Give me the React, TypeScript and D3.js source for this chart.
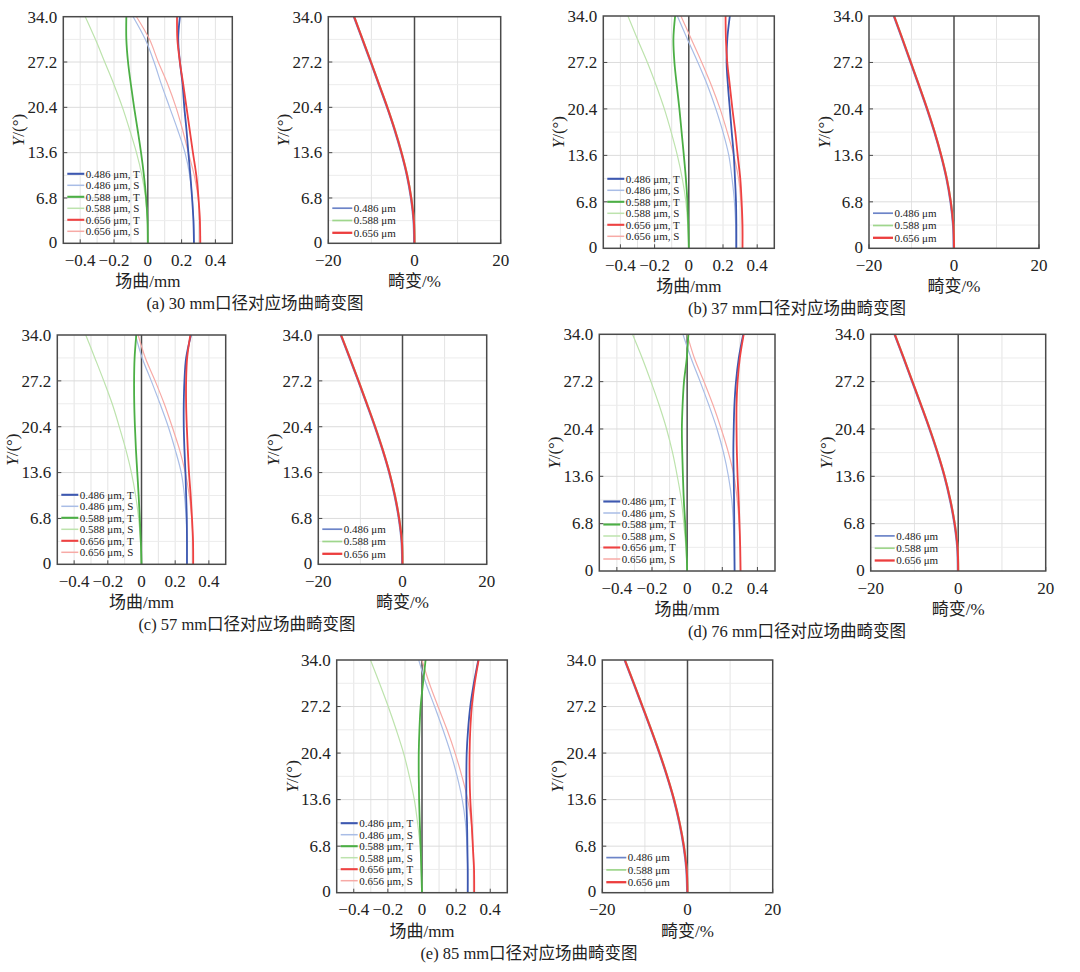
import React from "react";
import * as d3 from "d3";

// ---------- data ----------
const Y_SAMPLES = [0, 3.4, 6.8, 10.2, 13.6, 17, 20.4, 23.8, 27.2, 30.6, 34];
const Y_TICKS = [0, 6.8, 13.6, 20.4, 27.2, 34.0];
const FIELD_X_TICKS = [-0.4, -0.2, 0, 0.2, 0.4];
const DIST_X_TICKS = [-20, 0, 20];

const FIELD_NAMES = ["0.486 μm, T", "0.486 μm, S", "0.588 μm, T", "0.588 μm, S", "0.656 μm, T", "0.656 μm, S"];
const DIST_NAMES = ["0.486 μm", "0.588 μm", "0.656 μm"];

// (a) 30 mm
const A_BT = [0.273, 0.27, 0.262, 0.252, 0.24, 0.229, 0.216, 0.206, 0.19, 0.18, 0.19];
const A_BS = [0.275, 0.271, 0.263, 0.248, 0.22, 0.177, 0.129, 0.081, 0.037, -0.015, -0.087];
const A_GT = [0, -0.002, -0.01, -0.023, -0.04, -0.06, -0.081, -0.1, -0.117, -0.127, -0.127];
const A_GS = [0, -0.002, -0.013, -0.035, -0.067, -0.107, -0.15, -0.2, -0.255, -0.31, -0.37];
const A_RT = [0.31, 0.308, 0.3, 0.287, 0.267, 0.248, 0.229, 0.21, 0.19, 0.175, 0.173];
const A_RS = [0.313, 0.31, 0.298, 0.275, 0.24, 0.206, 0.167, 0.119, 0.062, 0.01, -0.067];
const A_DIST = [0, -0.15, -0.75, -1.7, -3.0, -4.55, -6.3, -8.2, -10.1, -12.05, -14.0];

// (b) 37 mm
const B_BT = [0.278, 0.278, 0.276, 0.27, 0.263, 0.251, 0.24, 0.229, 0.221, 0.225, 0.24];
const B_BS = [0.276, 0.274, 0.267, 0.253, 0.234, 0.2, 0.158, 0.11, 0.053, -0.008, -0.067];
const B_GT = [0, -0.003, -0.008, -0.017, -0.029, -0.042, -0.055, -0.07, -0.084, -0.09, -0.08];
const B_GS = [0, -0.006, -0.017, -0.038, -0.067, -0.103, -0.143, -0.19, -0.242, -0.3, -0.356];
const B_RT = [0.314, 0.314, 0.309, 0.301, 0.286, 0.272, 0.255, 0.24, 0.225, 0.217, 0.215];
const B_RS = [0.314, 0.312, 0.305, 0.291, 0.263, 0.225, 0.183, 0.133, 0.076, 0.015, -0.046];
const B_DIST = [0, -0.15, -0.75, -1.7, -3.0, -4.55, -6.3, -8.2, -10.15, -12.1, -14.1];

// (c) 57 mm
const C_BT = [0.27, 0.27, 0.269, 0.265, 0.261, 0.255, 0.251, 0.251, 0.255, 0.265, 0.294];
const C_BS = [0.27, 0.27, 0.265, 0.255, 0.236, 0.2, 0.159, 0.11, 0.058, 0.004, -0.036];
const C_GT = [0, -0.004, -0.01, -0.017, -0.025, -0.033, -0.039, -0.043, -0.044, -0.041, -0.031];
const C_GS = [0, -0.006, -0.017, -0.035, -0.06, -0.093, -0.132, -0.174, -0.224, -0.277, -0.331];
const C_RT = [0.307, 0.306, 0.3, 0.292, 0.282, 0.275, 0.269, 0.265, 0.265, 0.271, 0.29];
const C_RS = [0.307, 0.306, 0.298, 0.284, 0.26, 0.226, 0.182, 0.135, 0.081, 0.023, -0.02];
const C_DIST = [0, -0.15, -0.8, -1.8, -3.1, -4.7, -6.5, -8.45, -10.45, -12.5, -14.6];

// (d) 76 mm
const D_BT = [0.27, 0.269, 0.268, 0.267, 0.265, 0.263, 0.265, 0.269, 0.278, 0.294, 0.319];
const D_BS = [0.27, 0.268, 0.263, 0.254, 0.235, 0.207, 0.17, 0.124, 0.074, 0.022, -0.024];
const D_GT = [0, -0.004, -0.011, -0.019, -0.024, -0.028, -0.03, -0.026, -0.018, -0.002, 0.007];
const D_GS = [0, -0.007, -0.019, -0.033, -0.056, -0.083, -0.117, -0.159, -0.206, -0.256, -0.311];
const D_RT = [0.304, 0.302, 0.298, 0.293, 0.287, 0.283, 0.281, 0.281, 0.287, 0.3, 0.322];
const D_RS = [0.304, 0.302, 0.296, 0.285, 0.267, 0.235, 0.194, 0.148, 0.096, 0.041, 0.0];
const D_DIST = [0, -0.15, -0.8, -1.8, -3.1, -4.7, -6.5, -8.45, -10.45, -12.45, -14.5];

// (e) 85 mm
const E_BT = [0.268, 0.268, 0.266, 0.264, 0.26, 0.26, 0.262, 0.27, 0.283, 0.304, 0.33];
const E_BS = [0.268, 0.268, 0.264, 0.255, 0.236, 0.206, 0.168, 0.123, 0.074, 0.023, -0.019];
const E_GT = [0, -0.004, -0.008, -0.013, -0.017, -0.019, -0.019, -0.015, -0.008, 0.006, 0.021];
const E_GS = [0, -0.004, -0.011, -0.026, -0.045, -0.074, -0.108, -0.151, -0.198, -0.249, -0.302];
const E_RT = [0.306, 0.305, 0.298, 0.291, 0.283, 0.279, 0.279, 0.283, 0.292, 0.309, 0.332];
const E_RS = [0.306, 0.304, 0.298, 0.289, 0.268, 0.234, 0.194, 0.147, 0.094, 0.043, 0.0];
const E_DIST = [0, -0.2, -0.85, -1.85, -3.15, -4.75, -6.55, -8.5, -10.55, -12.6, -14.7];

const CAPTIONS = [
  "(a) 30 mm口径对应场曲畸变图",
  "(b) 37 mm口径对应场曲畸变图",
  "(c) 57 mm口径对应场曲畸变图",
  "(d) 76 mm口径对应场曲畸变图",
  "(e) 85 mm口径对应场曲畸变图",
];

// ---------- styles ----------
const FIELD_STYLE = [
  { color: "#3d58b0", width: 1.8 },
  { color: "#a9bde6", width: 1.2 },
  { color: "#4caf45", width: 1.8 },
  { color: "#bde3ad", width: 1.2 },
  { color: "#ee4242", width: 1.8 },
  { color: "#f7aaa6", width: 1.2 },
];
const DIST_STYLE = [
  { color: "#6c84c8", width: 1.4 },
  { color: "#9fd68c", width: 1.4 },
  { color: "#ec3e3e", width: 2.0 },
];

const FONT = "'Liberation Serif', 'Times New Roman', 'Noto Sans CJK SC', serif";
const AXIS_COLOR = "#4a4a4a";
const TEXT_COLOR = "#222";
const TICK_FS = 17;

type Layout = {
  fx0: number; fx1: number; dx0: number; dx1: number;
  top: number; bottom: number; capX: number;
};

const LAYOUTS: Layout[] = [
  { fx0: 63.3, fx1: 232.3, dx0: 328.3, dx1: 500.7, top: 16.7, bottom: 243.3, capX: 255 },
  { fx0: 603.3, fx1: 774.3, dx0: 869, dx1: 1039, top: 16, bottom: 248.3, capX: 797 },
  { fx0: 57.3, fx1: 225.7, dx0: 318.3, dx1: 486.7, top: 335, bottom: 564.3, capX: 247 },
  { fx0: 599.3, fx1: 775, dx0: 870.7, dx1: 1045.7, top: 334.3, bottom: 571, capX: 797 },
  { fx0: 336.7, fx1: 507.3, dx0: 602.3, dx1: 772.7, top: 660, bottom: 892.7, capX: 529 },
];

const FIELD_DATA = [
  [A_BT, A_BS, A_GT, A_GS, A_RT, A_RS],
  [B_BT, B_BS, B_GT, B_GS, B_RT, B_RS],
  [C_BT, C_BS, C_GT, C_GS, C_RT, C_RS],
  [D_BT, D_BS, D_GT, D_GS, D_RT, D_RS],
  [E_BT, E_BS, E_GT, E_GS, E_RT, E_RS],
];
const DIST_DATA = [A_DIST, B_DIST, C_DIST, D_DIST, E_DIST];

function fmtX(v: number, decimals: number) {
  if (v === 0) return "0";
  return (v < 0 ? "\u2212" : "") + Math.abs(v).toFixed(decimals);
}
function fmtY(v: number) {
  return v === 0 ? "0" : v.toFixed(1);
}

type PlotProps = {
  id: string;
  x0: number; x1: number; top: number; bottom: number;
  domain: [number, number];
  xTicks: number[];
  gridX: number[];
  decimals: number;
  xLabel: string;
  series: { values: number[]; color: string; width: number; dx?: number }[];
  legend: { name: string; color: string; width: number }[];
  legendKind: "field" | "dist";
};

function Plot(p: PlotProps) {
  const x = d3.scaleLinear().domain(p.domain).range([p.x0, p.x1]);
  const y = d3.scaleLinear().domain([0, 34]).range([p.bottom, p.top]);
  const gridY = d3.range(1, 10).map((i) => i * 3.4);
  const line = d3
    .line<number>()
    .x((d) => x(d))
    .y((_, i) => y(Y_SAMPLES[i]))
    .curve(d3.curveCatmullRom.alpha(0.5));
  const midY = (p.top + p.bottom) / 2;
  const isField = p.legendKind === "field";
  const legSpacing = isField ? 11.5 : 12.3;
  const legLastY = isField ? p.bottom - 12 : p.bottom - 10.5;
  const legFirstY = legLastY - legSpacing * (p.legend.length - 1);
  const legLineX0 = p.x0 + 4;
  const legLineX1 = p.x0 + (isField ? 21 : 24);
  return (
    <g>
      <defs>
        <clipPath id={p.id}>
          <rect x={p.x0} y={p.top} width={p.x1 - p.x0} height={p.bottom - p.top} />
        </clipPath>
      </defs>
      <rect x={p.x0} y={p.top} width={p.x1 - p.x0} height={p.bottom - p.top} fill="#fff" />
      {p.gridX.map((g, i) => (
        <line key={"gx" + i} x1={x(g)} x2={x(g)} y1={p.top} y2={p.bottom}
          stroke={"#e4e4e4"} strokeWidth={1} />
      ))}
      {gridY.map((g, i) => (
        <line key={"gy" + i} x1={p.x0} x2={p.x1} y1={y(g)} y2={y(g)}
          stroke={i % 2 === 1 ? "#dcdcdc" : "#ececec"} strokeWidth={1} />
      ))}
      <line x1={x(0)} x2={x(0)} y1={p.top} y2={p.bottom} stroke={AXIS_COLOR} strokeWidth={1.5} />
      {p.legend.map((l, i) => {
        const ly = legFirstY + i * legSpacing;
        return (
          <g key={"lg" + i}>
            <line x1={legLineX0} x2={legLineX1} y1={ly} y2={ly} stroke={l.color} strokeWidth={l.width + 0.3} />
            <text x={legLineX1 + 1.5} y={ly + 3.8} fontSize={11} fontFamily={FONT} fill={TEXT_COLOR}>
              {l.name}
            </text>
          </g>
        );
      })}
      <g clipPath={`url(#${p.id})`}>
        {p.series.map((s, i) => (
          <path key={"s" + i} d={line(s.values) || ""} fill="none" stroke={s.color}
            strokeWidth={s.width} transform={s.dx ? `translate(${s.dx},0)` : undefined} />
        ))}
      </g>
      <rect x={p.x0} y={p.top} width={p.x1 - p.x0} height={p.bottom - p.top} fill="none"
        stroke={AXIS_COLOR} strokeWidth={1.5} />
      {p.xTicks.map((t, i) => (
        <g key={"xt" + i}>
          {t !== 0 && (
            <line x1={x(t)} x2={x(t)} y1={p.bottom} y2={p.bottom - 4} stroke={AXIS_COLOR} strokeWidth={1} />
          )}
          <text x={x(t)} y={p.bottom + 22.5} textAnchor="middle" fontSize={TICK_FS} fontFamily={FONT} fill={TEXT_COLOR}>
            {fmtX(t, p.decimals)}
          </text>
        </g>
      ))}
      {Y_TICKS.map((t, i) => (
        <g key={"yt" + i}>
          {t !== 0 && t !== 34 && (
            <line x1={p.x0} x2={p.x0 + 4} y1={y(t)} y2={y(t)} stroke={AXIS_COLOR} strokeWidth={1} />
          )}
          <text x={p.x0 - 6} y={y(t) + (t === 0 ? 4.5 : 5.8)} textAnchor="end" fontSize={TICK_FS} fontFamily={FONT} fill={TEXT_COLOR}>
            {fmtY(t)}
          </text>
        </g>
      ))}
      <text x={(p.x0 + p.x1) / 2} y={p.bottom + 44} textAnchor="middle" fontSize={17} fontFamily={FONT} fill={TEXT_COLOR}>
        {p.xLabel}
      </text>
      <text transform={`translate(${p.x0 - 39},${midY}) rotate(-90)`} textAnchor="middle" fontSize={17}
        fontFamily={FONT} fill={TEXT_COLOR}>
        <tspan fontStyle="italic">Y</tspan>/(°)
      </text>
    </g>
  );
}

export default function App() {
  const fieldGrid = d3.range(-4, 5).filter((v) => v !== 0).map((v) => v / 10);
  const distGrid = [-10, 10];
  return (
    <svg width={1080} height={972} style={{ position: "absolute", left: 0, top: 0, background: "#fff" }}>
      <rect x={0} y={0} width={1080} height={972} fill="#fff" />
      {LAYOUTS.map((L, k) => {
        const fieldSeries = [1, 3, 5, 0, 2, 4].map((i) => ({
          values: FIELD_DATA[k][i],
          color: FIELD_STYLE[i].color,
          width: FIELD_STYLE[i].width,
        }));
        const distSeries = [0, 1, 2].map((i) => ({
          values: DIST_DATA[k],
          color: DIST_STYLE[i].color,
          width: DIST_STYLE[i].width,
          dx: i === 0 ? -0.7 : i === 1 ? 0.4 : 0,
        }));
        return (
          <g key={k}>
            <Plot
              id={`clipF${k}`}
              x0={L.fx0} x1={L.fx1} top={L.top} bottom={L.bottom}
              domain={[-0.5, 0.5]}
              xTicks={FIELD_X_TICKS}
              gridX={fieldGrid}
              decimals={1}
              xLabel="场曲/mm"
              series={fieldSeries}
              legend={FIELD_NAMES.map((n, i) => ({ name: n, color: FIELD_STYLE[i].color, width: FIELD_STYLE[i].width }))}
              legendKind="field"
            />
            <Plot
              id={`clipD${k}`}
              x0={L.dx0} x1={L.dx1} top={L.top} bottom={L.bottom}
              domain={[-20, 20]}
              xTicks={DIST_X_TICKS}
              gridX={distGrid}
              decimals={0}
              xLabel="畸变/%"
              series={distSeries}
              legend={DIST_NAMES.map((n, i) => ({ name: n, color: DIST_STYLE[i].color, width: DIST_STYLE[i].width }))}
              legendKind="dist"
            />
            <text x={L.capX} y={L.bottom + 66} textAnchor="middle" fontSize={16.5} fontFamily={FONT} fill={TEXT_COLOR}>
              {CAPTIONS[k]}
            </text>
          </g>
        );
      })}
    </svg>
  );
}
